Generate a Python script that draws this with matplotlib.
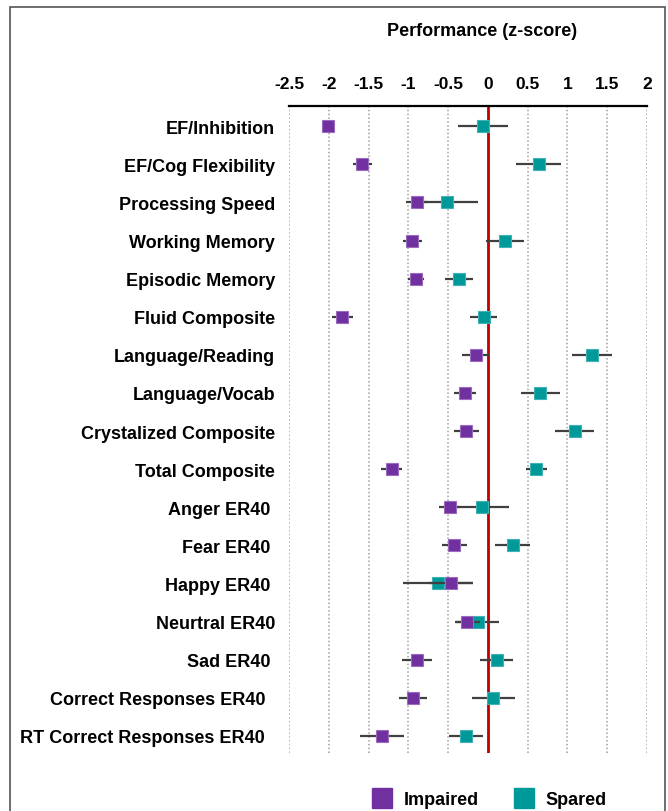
import numpy as np
import matplotlib.pyplot as plt
from matplotlib.lines import Line2D
from matplotlib.patches import Rectangle

plt.rcParams['font.family'] = ['Liberation Sans', 'DejaVu Sans']

# Measures (top to bottom); trailing spaces as in the original labels
measures = ['EF/Inhibition', 'EF/Cog Flexibility', 'Processing Speed', 'Working Memory',
            'Episodic Memory', 'Fluid Composite', 'Language/Reading', 'Language/Vocab',
            'Crystalized Composite', 'Total Composite', 'Anger ER40 ', 'Fear ER40 ',
            'Happy ER40 ', 'Neurtral ER40', 'Sad ER40 ', 'Correct Responses ER40  ',
            'RT Correct Responses ER40  ']

# z-scores and error half-widths
impaired = [-2.01, -1.58, -0.89, -0.95, -0.90, -1.83, -0.155, -0.29, -0.27, -1.21,
            -0.48, -0.42, -0.465, -0.26, -0.89, -0.94, -1.33]
impaired_err = [0.08, 0.12, 0.14, 0.12, 0.10, 0.13, 0.165, 0.14, 0.155, 0.13,
                0.13, 0.16, 0.28, 0.155, 0.19, 0.175, 0.275]
spared = [-0.06, 0.64, -0.51, 0.21, -0.365, -0.05, 1.31, 0.66, 1.09, 0.61,
          -0.075, 0.31, -0.63, -0.125, 0.11, 0.065, -0.28]
spared_err = [0.31, 0.285, 0.39, 0.24, 0.175, 0.17, 0.25, 0.25, 0.25, 0.13,
              0.34, 0.22, 0.44, 0.27, 0.21, 0.27, 0.215]

xticks = [-2.5, -2, -1.5, -1, -0.5, 0, 0.5, 1, 1.5, 2]
xticklabels = ['-2.5', '-2', '-1.5', '-1', '-0.5', '0', '0.5', '1', '1.5', '2']

purple = '#7030a0'
teal = '#009999'

W, H = 668, 812
fig = plt.figure(figsize=(W / 100, H / 100), dpi=100)
ax = fig.add_axes([289 / W, 1 - 754 / H, (647 - 289) / W, (754 - 107) / H])

y = np.arange(len(measures))

# dotted grid
for t in xticks:
    ax.axvline(t, color='#a0a0a0', ls=(0, (1, 1.5)), lw=1.1, zorder=0)
ax.axvline(0, color='#c00000', lw=2, zorder=1)

ax.errorbar(spared, y, xerr=spared_err, fmt='none', ecolor='#404040', elinewidth=1.6, zorder=2)
ax.plot(spared, y, 's', color=teal, markersize=8.5, mec='#3fb3b3', mew=0.8, ls='none', zorder=3)
ax.errorbar(impaired, y, xerr=impaired_err, fmt='none', ecolor='#404040', elinewidth=1.6, zorder=4)
ax.plot(impaired, y, 's', color=purple, markersize=8.5, mec='#9a6cc0', mew=0.8, ls='none', zorder=5)

ax.set_xlim(-2.5, 2)
ax.set_ylim(len(measures) - 1 + 0.45, -0.53)
ax.set_yticks(y)
ax.set_yticklabels(measures, fontsize=13, fontweight='bold')
ax.set_xticks(xticks)
ax.set_xticklabels(xticklabels, fontsize=12.5, fontweight='bold')
ax.xaxis.tick_top()
ax.tick_params(axis='x', length=0, pad=11)
ax.tick_params(axis='y', length=0, pad=10)
for s in ['left', 'right', 'bottom']:
    ax.spines[s].set_visible(False)
ax.spines['top'].set_linewidth(1.6)
ax.spines['top'].set_color('black')

fig.text(482 / W, 1 - 31 / H, 'Performance (z-score)', ha='center', va='center',
         fontsize=13, fontweight='bold')

# outer frame
fig.patches.append(Rectangle((10 / W, -0.05), (665 - 10) / W, 1.05 - 8 / H,
                             transform=fig.transFigure, fill=False,
                             edgecolor='#555555', lw=1.2))

handles = [Line2D([], [], marker='s', color=purple, ls='none', markersize=14),
           Line2D([], [], marker='s', color=teal, ls='none', markersize=14)]
fig.legend(handles, ['Impaired', 'Spared'], loc='center', bbox_to_anchor=(489 / W, 1 - 801 / H),
           ncol=2, frameon=False, prop={'weight': 'bold', 'size': 13},
           handletextpad=0.6, columnspacing=1.9, handlelength=1.2)

fig.savefig('out.png', dpi=100)
